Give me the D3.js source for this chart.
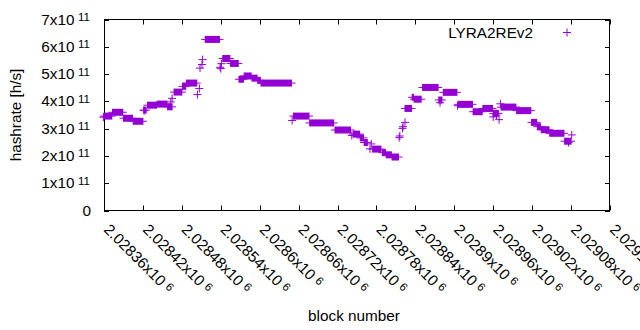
<!DOCTYPE html>
<html>
<head>
<meta charset="utf-8">
<script src="https://cdn.jsdelivr.net/npm/d3@7"></script>
<style>
  body { margin: 0; background: #fff; }
  svg { display: block; font-family: "Liberation Sans", Arial, sans-serif; }
</style>
</head>
<body>
<svg id="chart"></svg>
<script>
// runs of blocks with the same estimated hashrate (start block, end block, h/s)
const runStart = [
  2028360, 2028373, 2028390, 2028405, 2028421, 2028427, 2028442, 2028458, 2028468, 2028481,
  2028487, 2028516, 2028543, 2028555, 2028568, 2028576, 2028588, 2028597, 2028602, 2028652,
  2028677, 2028716, 2028744, 2028755, 2028761, 2028774, 2028789, 2028795, 2028804, 2028824,
  2028835, 2028838, 2028851, 2028876, 2028883, 2028906, 2028929, 2028944, 2028960, 2028972,
  2028996, 2029019, 2029028, 2029034, 2029047, 2029070];
const runEnd = [
  2028372, 2028389, 2028404, 2028420, 2028425, 2028441, 2028457, 2028465, 2028480, 2028486,
  2028503, 2028538, 2028554, 2028567, 2028575, 2028587, 2028596, 2028601, 2028649, 2028676,
  2028714, 2028740, 2028754, 2028760, 2028766, 2028787, 2028794, 2028803, 2028814, 2028834,
  2028837, 2028849, 2028875, 2028881, 2028904, 2028928, 2028943, 2028959, 2028968, 2028995,
  2029018, 2029027, 2029033, 2029046, 2029069, 2029080];
const runValue = [
  3.46e11, 3.60e11, 3.38e11, 3.27e11, 3.68e11, 3.86e11, 3.90e11, 3.80e11, 4.34e11, 4.55e11,
  4.67e11, 6.27e11, 5.57e11, 5.39e11, 4.81e11, 4.93e11, 4.85e11, 4.77e11, 4.67e11, 3.46e11,
  3.21e11, 2.95e11, 2.80e11, 2.66e11, 2.49e11, 2.25e11, 2.12e11, 2.04e11, 1.96e11, 3.74e11,
  4.15e11, 4.08e11, 4.51e11, 4.05e11, 4.33e11, 3.89e11, 3.62e11, 3.74e11, 3.56e11, 3.79e11,
  3.66e11, 3.23e11, 3.07e11, 2.96e11, 2.83e11, 2.54e11];

// isolated blocks
const pointBlock = [
  2028359, 2028422, 2028463, 2028465, 2028504, 2028507, 2028508, 2028511, 2028512, 2028539,
  2028540, 2028541, 2028650, 2028742, 2028770, 2028772, 2028815, 2028816, 2028820, 2028821,
  2028824, 2028878, 2028905, 2028960, 2028965, 2028969, 2028971, 2029076, 2029081];
const pointValue = [
  3.42e11, 3.66e11, 3.98e11, 4.11e11, 4.25e11, 4.47e11, 5.22e11, 5.35e11, 5.53e11, 5.25e11,
  5.20e11, 5.38e11, 3.30e11, 2.75e11, 2.26e11, 2.44e11, 2.67e11, 2.73e11, 3.01e11, 3.07e11,
  3.23e11, 3.95e11, 3.84e11, 3.43e11, 3.50e11, 3.33e11, 3.91e11, 2.49e11, 2.77e11];

const xTicks = [2028360, 2028420, 2028480, 2028540, 2028600, 2028660, 2028720,
                2028780, 2028840, 2028900, 2028960, 2029020, 2029080, 2029140];
const xTickLabels = ["2.02836", "2.02842", "2.02848", "2.02854", "2.0286", "2.02866", "2.02872",
                     "2.02878", "2.02884", "2.0289", "2.02896", "2.02902", "2.02908", "2.02914"];
const yTicks = [0, 1e11, 2e11, 3e11, 4e11, 5e11, 6e11, 7e11];
const yTickLabels = ["0", "1", "2", "3", "4", "5", "6", "7"];

const ctx = {
  width: 640, height: 330,
  left: 104, right: 610, top: 19.5, bottom: 210.5,
  color: "#9400d3",
  font: 15.3,
  arm: 3.5
};

const svg = d3.select("#chart").attr("width", ctx.width).attr("height", ctx.height);

const x = d3.scaleLinear().domain([2028360, 2029140]).range([ctx.left, ctx.right]);
const y = d3.scaleLinear().domain([0, 7e11]).range([ctx.bottom, ctx.top]);

// border box
svg.append("rect")
  .attr("x", ctx.left + 0.5).attr("y", ctx.top)
  .attr("width", ctx.right - ctx.left - 1).attr("height", ctx.bottom - ctx.top)
  .attr("fill", "none").attr("stroke", "#000").attr("stroke-width", 1);

// tick marks, inward on all four sides
const tickLen = 5;
xTicks.forEach(t => {
  const px = Math.round(x(t)) + 0.5;
  svg.append("line").attr("x1", px).attr("x2", px)
    .attr("y1", ctx.bottom).attr("y2", ctx.bottom - tickLen).attr("stroke", "#000");
  svg.append("line").attr("x1", px).attr("x2", px)
    .attr("y1", ctx.top).attr("y2", ctx.top + tickLen).attr("stroke", "#000");
});
yTicks.forEach(t => {
  const py = Math.round(y(t)) + 0.5;
  svg.append("line").attr("x1", ctx.left).attr("x2", ctx.left + tickLen)
    .attr("y1", py).attr("y2", py).attr("stroke", "#000");
  svg.append("line").attr("x1", ctx.right).attr("x2", ctx.right - tickLen)
    .attr("y1", py).attr("y2", py).attr("stroke", "#000");
});

// y tick labels: "Nx10" with superscript 11
yTicks.forEach((t, i) => {
  const ty = y(t) + 5;
  if (t === 0) {
    svg.append("text").attr("x", 91).attr("y", ty).attr("text-anchor", "end")
      .attr("font-size", ctx.font).attr("fill", "#000").text("0");
    return;
  }
  svg.append("text").attr("x", 74.5).attr("y", ty).attr("text-anchor", "end")
    .attr("font-size", ctx.font).attr("fill", "#000").text(yTickLabels[i] + "x10");
  svg.append("text").attr("x", 78).attr("y", ty - 3.5)
    .attr("font-size", 11.5).attr("fill", "#000").text("11");
});

// x tick labels, rotated 45 degrees
xTicks.forEach((t, i) => {
  const g = svg.append("g")
    .attr("transform", `translate(${x(t) - 1},${ctx.bottom + 20}) rotate(45)`);
  const txt = g.append("text").attr("x", 0).attr("y", 0)
    .attr("font-size", ctx.font).attr("fill", "#000");
  txt.append("tspan").text(xTickLabels[i] + "x10");
  txt.append("tspan").attr("dx", 4).attr("dy", -3.5).attr("font-size", 11.5).text("6");
});

// axis titles
svg.append("text")
  .attr("transform", `translate(21,${(ctx.top + ctx.bottom) / 2}) rotate(-90)`)
  .attr("text-anchor", "middle").attr("font-size", ctx.font).attr("fill", "#000")
  .text("hashrate [h/s]");
svg.append("text")
  .attr("x", 354).attr("y", 321).attr("text-anchor", "middle")
  .attr("font-size", ctx.font).attr("fill", "#000")
  .text("block number");

// data: dense runs of '+' markers
const runs = runStart.map((s, i) => ({ s: s, e: runEnd[i], v: runValue[i] }));
const plot = svg.append("g");

plot.selectAll("rect.run")
  .data(runs)
  .enter()
  .append("rect")
    .attr("class", "run")
    .attr("x", d => x(d.s) - 0.5)
    .attr("width", d => x(d.e) - x(d.s) + 1)
    .attr("y", d => y(d.v) - ctx.arm)
    .attr("height", ctx.arm * 2)
    .attr("fill", ctx.color);

plot.selectAll("line.runarm")
  .data(runs)
  .enter()
  .append("line")
    .attr("class", "runarm")
    .attr("x1", d => x(d.s) - ctx.arm - 0.5)
    .attr("x2", d => x(d.e) + ctx.arm + 0.5)
    .attr("y1", d => y(d.v))
    .attr("y2", d => y(d.v))
    .attr("stroke", ctx.color).attr("stroke-width", 1);

// isolated '+' markers
const points = pointBlock.map((b, i) => ({ b: b, v: pointValue[i] }));
const plus = plot.selectAll("g.pt")
  .data(points)
  .enter()
  .append("g")
    .attr("class", "pt")
    .attr("transform", d => `translate(${x(d.b)},${y(d.v)})`);
plus.append("line").attr("x1", -ctx.arm - 0.5).attr("x2", ctx.arm + 0.5)
  .attr("y1", 0).attr("y2", 0).attr("stroke", ctx.color);
plus.append("line").attr("x1", 0).attr("x2", 0)
  .attr("y1", -ctx.arm - 0.5).attr("y2", ctx.arm + 0.5).attr("stroke", ctx.color);

// legend
svg.append("text")
  .attr("x", 533).attr("y", 37.5).attr("text-anchor", "end")
  .attr("font-size", ctx.font).attr("fill", "#000")
  .text("LYRA2REv2");
const lg = svg.append("g").attr("transform", "translate(567,32.5)");
lg.append("line").attr("x1", -4).attr("x2", 4).attr("y1", 0).attr("y2", 0).attr("stroke", ctx.color);
lg.append("line").attr("x1", 0).attr("x2", 0).attr("y1", -4).attr("y2", 4).attr("stroke", ctx.color);
</script>
</body>
</html>
